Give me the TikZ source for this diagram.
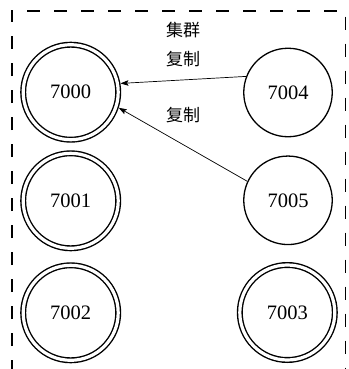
\documentclass[tikz,border=0pt]{standalone}
\usepackage{fontspec}
\setmainfont{Liberation Serif}
\newfontfamily\cjk{Noto Sans CJK SC}
\usetikzlibrary{arrows.meta}
\begin{document}
\begin{tikzpicture}[x=1pt,y=1pt,
  dbl/.style={circle,draw,line width=1.4pt,double,double distance=3.2pt,minimum size=95pt,inner sep=0pt,outer sep=3pt,font=\fontsize{20.5}{22}\selectfont},
  sgl/.style={circle,draw,line width=1.3pt,minimum size=88.5pt,inner sep=0pt,outer sep=0.65pt,font=\fontsize{20.5}{22}\selectfont},
  lbl/.style={font=\cjk\fontsize{17}{19}\selectfont,inner sep=0pt},
  rep/.style={line width=0.7pt,-{Stealth[length=8pt,width=5.5pt,inset=1.5pt]}},
  frame/.style={line width=1.8pt,dash pattern=on 13pt off 14pt}]
\useasboundingbox (0,0) rectangle (348,-369);
\begin{scope}
  \clip (0,0) rectangle (348,-369);
  \draw[frame] (11.7,-400) -- (11.7,-10.7) -- (345.5,-10.7) -- (345.5,-400);
\end{scope}
\node[dbl] (n7000) at (70.7,-92.2) {7000};
\node[dbl] (n7001) at (70.7,-200.8) {7001};
\node[dbl] (n7002) at (70.7,-312.8) {7002};
\node[dbl] (n7003) at (287.3,-312.5) {7003};
\node[sgl] (n7004) at (288,-92.5) {7004};
\node[sgl] (n7005) at (288,-200.3) {7005};
\node[lbl] (cl) at (183,-30) {集群};
\node[lbl] (r1) at (183,-59.5) {复制};
\node[lbl] (r2) at (183,-115) {复制};
\draw[rep] (n7004.159) -- (n7000.10);
\draw[rep] (n7005.155) -- (n7000.-18);
\end{tikzpicture}
\end{document}
